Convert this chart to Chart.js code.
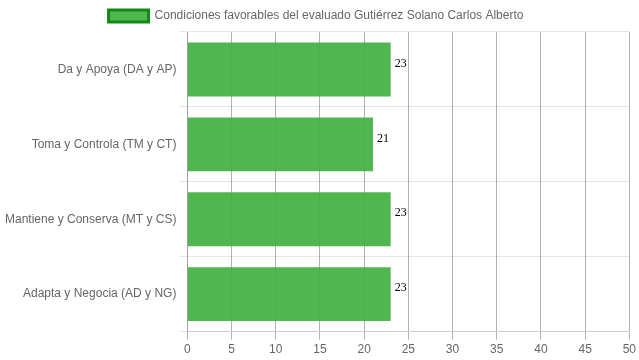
<!DOCTYPE html>
<html lang="es">
<head>
    <meta charset="UTF-8">
    <title>Condiciones favorables</title>
    <style>
        body {
            margin: 0;
            padding: 0;
            background: #fff;
        }

        .chart-container {
            width: 639px;
            height: 360px;
        }
    </style>
</head>
<body>
    <div class="chart-container">
        <canvas id="grafico"></canvas>
    </div>

    <script src="https://cdn.jsdelivr.net/npm/chart.js"></script>
    <script>
        // Datos del gráfico
        const categorias = [
            'Da y Apoya (DA y AP)',
            'Toma y Controla (TM y CT)',
            'Mantiene y Conserva (MT y CS)',
            'Adapta y Negocia (AD y NG)'
        ];
        const valores = [23, 21, 23, 23];
        const etiquetaSerie = 'Condiciones favorables del evaluado Gutiérrez Solano Carlos Alberto';

        // Plugin para escribir el valor al final de cada barra
        const valoresPlugin = {
            id: 'valores',
            afterDatasetsDraw(chart) {
                const ctx = chart.ctx;
                ctx.save();
                ctx.font = '12px "Liberation Serif", "Times New Roman", serif';
                ctx.fillStyle = '#000';
                ctx.textAlign = 'left';
                ctx.textBaseline = 'middle';
                chart.getDatasetMeta(0).data.forEach((bar, i) => {
                    ctx.fillText(chart.data.datasets[0].data[i], bar.x + 4, bar.y - 6);
                });
                ctx.restore();
            }
        };

        Chart.defaults.font.family = 'Arial, "Liberation Sans", sans-serif';
        Chart.defaults.font.size = 12;
        Chart.defaults.color = '#666';

        new Chart(document.getElementById('grafico'), {
            type: 'bar',
            data: {
                labels: categorias,
                datasets: [{
                    label: etiquetaSerie,
                    data: valores,
                    backgroundColor: 'rgba(67, 176, 67, 0.93)',
                    borderWidth: 0
                }]
            },
            options: {
                indexAxis: 'y',
                responsive: true,
                maintainAspectRatio: false,
                animation: false,
                layout: {
                    padding: { left: 2, right: 9 }
                },
                plugins: {
                    legend: {
                        labels: {
                            boxWidth: 40,
                            generateLabels: () => [{
                                text: etiquetaSerie,
                                fillStyle: 'rgba(67, 176, 67, 0.93)',
                                strokeStyle: '#138a13',
                                lineWidth: 3,
                                fontColor: '#666',
                                datasetIndex: 0
                            }]
                        }
                    },
                    tooltip: { enabled: false }
                },
                scales: {
                    x: {
                        min: 0,
                        max: 50,
                        ticks: { stepSize: 5 },
                        grid: { color: 'rgba(0, 0, 0, 0.3)' }
                    },
                    y: {
                        grid: { color: 'rgba(0, 0, 0, 0.1)' }
                    }
                }
            },
            plugins: [valoresPlugin]
        });
    </script>
</body>
</html>
